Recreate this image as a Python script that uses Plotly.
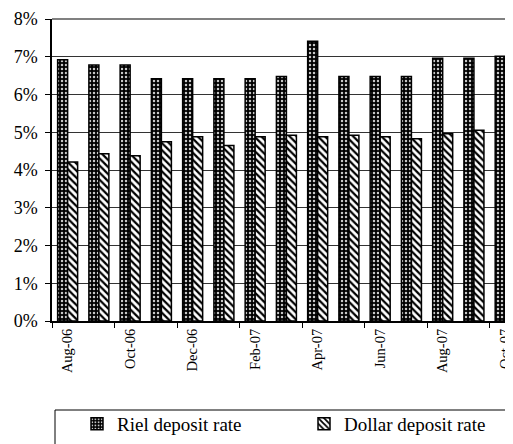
import plotly.graph_objects as go

months = ["Aug-06", "Sep-06", "Oct-06", "Nov-06", "Dec-06", "Jan-07", "Feb-07",
          "Mar-07", "Apr-07", "May-07", "Jun-07", "Jul-07", "Aug-07", "Sep-07", "Oct-07"]
riel_rate = [6.92, 6.78, 6.78, 6.42, 6.42, 6.42, 6.42,
             6.48, 7.41, 6.48, 6.48, 6.48, 6.96, 6.96, 7.01]
dollar_rate = [4.21, 4.43, 4.38, 4.75, 4.88, 4.65, 4.88,
               4.92, 4.88, 4.92, 4.88, 4.83, 4.96, 5.05, 5.00]

FONT = "Liberation Serif"
pos = list(range(len(months)))

fig = go.Figure()

# Riel: dark textured bars
fig.add_trace(go.Bar(
    x=pos, y=[v / 100 for v in riel_rate], name="Riel deposit rate",
    legend="legend",
    marker=dict(color="black", line=dict(color="black", width=1.5),
                pattern=dict(shape=".", bgcolor="black", fgcolor="#c8c8c8",
                             size=4, solidity=0.3, fillmode="replace")),
))

# Dollar: white with diagonal stripes
fig.add_trace(go.Bar(
    x=pos, y=[v / 100 for v in dollar_rate], name="Dollar deposit rate",
    legend="legend2",
    marker=dict(color="white", line=dict(color="black", width=1.5),
                pattern=dict(shape="\\", bgcolor="white", fgcolor="black",
                             size=5, solidity=0.45, fillmode="replace")),
))

leg = dict(orientation="h", xref="container", yref="container",
           xanchor="left", yanchor="top",
           font=dict(size=19, family=FONT), borderwidth=0,
           bgcolor="rgba(0,0,0,0)")

# page body adds an 8px offset, margins compensate for it
fig.update_layout(
    width=513, height=444,
    margin=dict(l=44, r=8, t=11, b=131),
    paper_bgcolor="white", plot_bgcolor="white",
    font=dict(family=FONT, color="black"),
    barmode="group", bargap=0.36, bargroupgap=0,
    showlegend=True,
    legend=dict(leg, x=69 / 513, y=1 - 397 / 444),
    legend2=dict(leg, x=296 / 513, y=1 - 397 / 444),
)

fig.update_xaxes(
    range=[-0.5, 14.25], automargin=False,
    tickvals=pos[::2], ticktext=months[::2],
    tickangle=-90, tickfont=dict(size=14.5, family=FONT),
    ticks="",
    minor=dict(tickvals=[p - 0.5 for p in pos[::2]], ticks="outside",
               ticklen=5, tickcolor="black", tickwidth=1, showgrid=False),
    showline=True, linecolor="black", linewidth=2,
    showgrid=False, zeroline=False,
)

fig.update_yaxes(
    range=[0, 0.08], dtick=0.01, tickformat=".0%", automargin=False,
    tickfont=dict(size=18, family=FONT), ticklabelstandoff=4,
    ticks="outside", ticklen=5, tickcolor="black",
    showline=True, linecolor="black", linewidth=1.5,
    showgrid=True, gridcolor="#333", gridwidth=1,
    zeroline=False,
)

# top border line of plot area (grey) and legend frame
fig.add_shape(type="line", xref="paper", yref="paper", x0=0, x1=1, y0=1, y1=1,
              line=dict(color="#808080", width=2))
fig.add_shape(type="rect", xref="paper", yref="paper",
              x0=3 / 461, x1=1.05, y0=(321 - 410) / 302, y1=(321 - 460) / 302,
              line=dict(color="black", width=1))

fig.write_html("out.html")
